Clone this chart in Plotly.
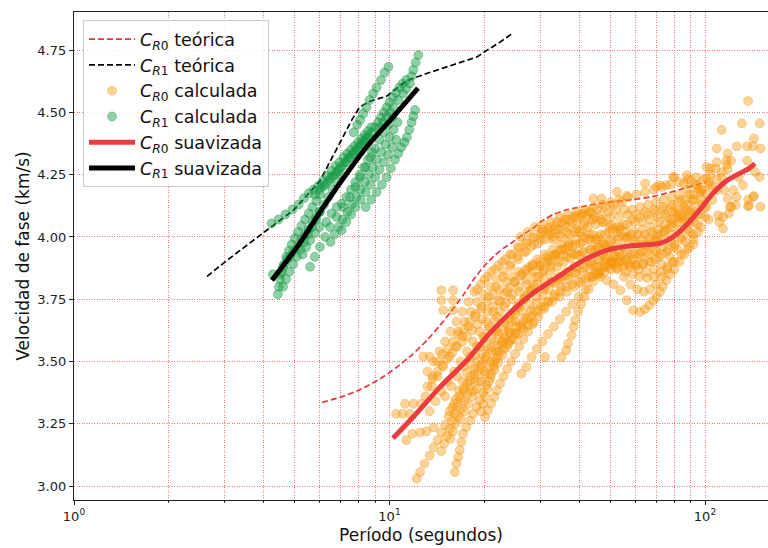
import plotly.graph_objects as go

# ---------------- theoretical dispersion curves ----------------
cr0_teo_p = [6.11, 7.0, 8.0, 9.33, 10.5, 11.87, 13.25, 14.45, 15.55, 17.1, 18.5, 20.0, 21.5, 23.0,
             24.6, 26.5, 28.5, 30.5, 33.0, 36.0, 39.3, 46.5, 52.0, 59.1, 67.0, 75.8, 86.0, 96.4, 101.5]
cr0_teo_v = [3.336, 3.357, 3.385, 3.43, 3.475, 3.53, 3.59, 3.645, 3.695, 3.765, 3.83, 3.885, 3.925, 3.955,
             3.979, 4.01, 4.035, 4.065, 4.09, 4.107, 4.118, 4.134, 4.142, 4.15, 4.16, 4.176, 4.195, 4.214, 4.22]

cr1_teo_p = [2.64, 3.12, 3.89, 4.96, 6.02, 6.97, 7.6, 8.05, 8.67, 9.8, 11.35, 13.1, 14.14,
             16.4, 18.9, 20.4, 22.4, 24.6]
cr1_teo_v = [3.842, 3.915, 4.007, 4.107, 4.225, 4.38, 4.47, 4.522, 4.545, 4.565, 4.628, 4.656, 4.67,
             4.698, 4.722, 4.75, 4.782, 4.818]

# ---------------- smoothed curves ----------------
cr0_suav_p = [10.26, 11.87, 14.45, 17.6, 20.8, 24.6, 28.5, 34.0, 41.1, 48.9, 56.0, 62.2, 72.0,
              79.3, 87.6, 96.4, 106, 117, 128.7, 138, 144]
cr0_suav_v = [3.192, 3.276, 3.397, 3.505, 3.614, 3.706, 3.774, 3.838, 3.906, 3.947, 3.962, 3.967, 3.974,
              4.0, 4.05, 4.11, 4.175, 4.225, 4.255, 4.275, 4.294]

cr1_suav_p = [4.24, 5.09, 6.16, 7.33, 8.67, 10.26, 12.31]
cr1_suav_v = [3.826, 3.959, 4.119, 4.256, 4.377, 4.481, 4.597]

# ---------------- C_R0 measured points (period s, velocity km/s) ----------------
cr0_tail_a = [(12.2, 3.03), (12.5, 3.056), (12.9, 3.09), (13.4, 3.123), (13.8, 3.156), (14.2, 3.185),
              (14.6, 3.215), (15.0, 3.245), (15.4, 3.28), (15.8, 3.315), (16.2, 3.35), (16.6, 3.385),
              (17.1, 3.42), (17.6, 3.455), (18.1, 3.49), (18.7, 3.525), (19.3, 3.56), (20.0, 3.595),
              (20.7, 3.63), (21.5, 3.665), (22.4, 3.70), (23.4, 3.735), (24.5, 3.77), (25.7, 3.80),
              (27.0, 3.83), (28.4, 3.86), (30.0, 3.885), (31.8, 3.91), (33.7, 3.93), (35.8, 3.95)]
cr0_tail_b = [(16.1, 3.056), (16.3, 3.09), (16.5, 3.117), (16.7, 3.144), (16.9, 3.177), (17.1, 3.21),
              (17.5, 3.237), (18.0, 3.263), (18.4, 3.29), (18.9, 3.317), (19.3, 3.344), (19.8, 3.375),
              (20.3, 3.405), (20.9, 3.435), (21.5, 3.465), (22.1, 3.495), (22.8, 3.525), (23.5, 3.555),
              (24.3, 3.585), (25.1, 3.615), (26.0, 3.645), (27.0, 3.675), (28.1, 3.705), (29.3, 3.735),
              (30.6, 3.765), (32.0, 3.79), (33.5, 3.815), (35.2, 3.84), (37.0, 3.86), (39.0, 3.88)]
cr0_tail_c = [(20.1, 3.277), (20.5, 3.304), (21.0, 3.331), (21.5, 3.358), (21.9, 3.384), (22.4, 3.411),
              (23.0, 3.44), (23.6, 3.47), (24.3, 3.50), (25.0, 3.53), (25.8, 3.56), (26.6, 3.59),
              (27.5, 3.62), (28.5, 3.65), (29.6, 3.68), (30.8, 3.71), (32.0, 3.74), (33.5, 3.77),
              (35.0, 3.80), (37.0, 3.83), (39.0, 3.855), (41.2, 3.875), (43.6, 3.89), (46.1, 3.905),
              (48.8, 3.915), (51.7, 3.925)]
cr0_tail_d = [(19.5, 3.30), (19.8, 3.33), (20.1, 3.36), (20.4, 3.39), (20.7, 3.42), (21.0, 3.45),
              (21.4, 3.48), (21.8, 3.51), (22.2, 3.54), (22.7, 3.57), (23.2, 3.60), (23.8, 3.63),
              (24.4, 3.66), (25.1, 3.69), (25.9, 3.72), (26.7, 3.75), (27.6, 3.78), (28.6, 3.81),
              (29.7, 3.84), (30.9, 3.87), (32.2, 3.90), (33.6, 3.93), (35.2, 3.95), (37.0, 3.97)]
cr0_tail_e = [(15.6, 3.19), (15.9, 3.22), (16.2, 3.25), (16.5, 3.28), (16.9, 3.31), (17.3, 3.34),
              (17.7, 3.37), (18.1, 3.40), (18.6, 3.43), (19.1, 3.46), (19.6, 3.49), (20.2, 3.52),
              (20.8, 3.55), (21.5, 3.58), (22.2, 3.61), (23.0, 3.64), (23.9, 3.67), (24.8, 3.70),
              (25.8, 3.73), (26.9, 3.76), (28.1, 3.79)]
cr0_tail_f = [(14.6, 3.14), (14.9, 3.17), (15.2, 3.20), (15.5, 3.23), (15.8, 3.26), (16.1, 3.29),
              (16.4, 3.32), (16.8, 3.35), (17.2, 3.38), (17.6, 3.41), (18.1, 3.44), (18.6, 3.47),
              (19.1, 3.50), (19.7, 3.53), (20.3, 3.56), (21.0, 3.59), (21.7, 3.62)]
cr0_left = [(10.5, 3.29), (11.0, 3.29), (11.6, 3.29), (11.2, 3.33), (11.9, 3.33), (12.6, 3.33),
            (11.3, 3.184), (11.8, 3.21), (12.5, 3.215), (13.1, 3.22), (13.8, 3.235),
            (12.8, 3.52), (13.4, 3.52), (13.2, 3.46), (13.7, 3.44),
            (14.6, 3.786), (15.9, 3.786), (14.6, 3.746), (15.9, 3.746), (14.8, 3.706), (15.9, 3.706)]
cr0_band_1 = [(13.0, 3.36), (13.6, 3.40), (14.2, 3.44), (14.8, 3.48), (15.5, 3.52), (16.2, 3.56),
              (17.0, 3.60), (17.8, 3.64), (18.7, 3.68), (19.6, 3.72), (20.6, 3.76), (21.7, 3.80),
              (22.9, 3.84), (24.2, 3.88), (25.6, 3.91), (27.1, 3.94), (28.7, 3.97), (30.4, 3.99),
              (32.3, 4.01), (34.3, 4.03), (36.5, 4.04), (38.9, 4.05), (41.4, 4.06), (44.1, 4.07),
              (47.0, 4.07), (50.1, 4.08), (53.4, 4.08), (56.9, 4.09), (60.7, 4.09), (64.7, 4.10),
              (69.0, 4.11), (73.6, 4.12), (78.5, 4.13), (83.7, 4.15), (89.3, 4.17), (95.2, 4.19)]
cr0_band_2 = [(13.8, 3.50), (14.4, 3.54), (15.0, 3.58), (15.6, 3.62), (16.3, 3.66), (17.0, 3.70),
              (17.8, 3.74), (18.6, 3.78), (19.5, 3.81), (20.5, 3.84), (21.6, 3.87), (22.8, 3.90),
              (24.1, 3.93), (25.5, 3.96), (27.0, 3.98), (28.6, 4.00), (30.3, 4.02), (32.1, 4.04),
              (34.0, 4.06), (36.0, 4.07), (38.2, 4.08), (40.5, 4.09), (43.0, 4.10), (45.6, 4.11),
              (48.4, 4.12), (51.4, 4.13), (54.5, 4.14)]
cr0_band_3 = [(13.4, 3.30), (14.0, 3.34), (14.6, 3.38), (15.3, 3.42), (16.0, 3.46), (16.8, 3.50),
              (17.6, 3.54), (18.4, 3.58), (19.3, 3.62), (20.3, 3.66), (21.3, 3.70), (22.4, 3.74),
              (23.6, 3.78), (24.9, 3.82), (26.3, 3.85), (27.8, 3.88), (29.4, 3.91), (31.1, 3.93),
              (32.9, 3.95), (34.8, 3.97), (36.9, 3.98), (39.1, 3.99), (41.5, 4.00), (44.0, 4.01),
              (46.7, 4.01), (49.6, 4.02), (52.7, 4.02), (56.0, 4.02), (59.5, 4.02), (63.2, 4.03),
              (67.2, 4.04), (71.4, 4.06), (75.9, 4.08), (80.7, 4.10), (85.8, 4.12), (91.2, 4.15),
              (97.0, 4.18), (103, 4.21)]
cr0_band_4 = [(15.0, 3.36), (15.7, 3.40), (16.4, 3.44), (17.2, 3.48), (18.0, 3.52), (18.9, 3.56),
              (19.8, 3.60), (20.8, 3.64), (21.9, 3.68), (23.1, 3.72), (24.4, 3.75), (25.8, 3.78),
              (27.3, 3.81), (28.9, 3.84), (30.6, 3.86), (32.4, 3.88), (34.3, 3.90), (36.3, 3.92),
              (38.5, 3.93), (40.8, 3.94), (43.3, 3.95), (45.9, 3.95), (48.7, 3.96), (51.7, 3.96),
              (54.9, 3.96), (58.3, 3.96), (61.9, 3.96), (65.7, 3.97), (69.8, 3.98), (74.1, 3.99),
              (78.7, 4.01), (83.6, 4.03), (88.8, 4.06), (94.3, 4.09), (100, 4.12)]
cr0_band_5 = [(18.5, 3.38), (19.2, 3.42), (20.0, 3.46), (20.9, 3.50), (21.8, 3.54), (22.8, 3.58),
              (23.9, 3.62), (25.1, 3.66), (26.4, 3.70), (27.8, 3.73), (29.3, 3.76), (30.9, 3.79),
              (32.6, 3.82), (34.4, 3.84), (36.4, 3.86), (38.5, 3.88), (40.8, 3.89), (43.2, 3.90),
              (45.8, 3.91), (48.6, 3.92), (51.6, 3.92), (54.8, 3.93), (58.2, 3.93), (61.8, 3.93),
              (65.6, 3.94), (69.6, 3.95), (73.9, 3.96), (78.4, 3.98)]
cr0_dip_a = [(30.0, 3.88), (31.8, 3.90), (33.7, 3.92), (35.7, 3.93), (37.8, 3.935), (40.0, 3.925),
             (42.2, 3.905), (44.5, 3.88), (46.5, 3.84), (48.8, 3.826), (51.3, 3.81), (53.9, 3.786),
             (56.5, 3.746), (59.2, 3.706), (62.2, 3.699), (64.5, 3.71), (66.6, 3.726), (68.5, 3.745),
             (70.2, 3.759), (72.0, 3.78), (73.5, 3.80), (75.4, 3.826), (77.5, 3.85), (80.0, 3.87),
             (83.0, 3.90), (86.0, 3.93), (89.0, 3.96), (92.0, 3.99), (95.0, 4.02)]
cr0_dip_b = [(45.0, 3.95), (47.5, 3.93), (50.0, 3.90), (52.6, 3.87), (55.3, 3.84), (58.0, 3.81),
             (61.0, 3.79), (64.0, 3.78), (67.0, 3.79), (70.0, 3.81), (73.0, 3.84), (76.0, 3.87),
             (79.0, 3.90)]
cr0_band_7 = [(30.5, 4.05), (32.5, 4.06), (34.6, 4.08), (36.8, 4.09), (39.2, 4.10), (41.7, 4.11),
              (44.4, 4.12), (47.3, 4.13), (50.3, 4.14), (53.5, 4.15), (57.0, 4.16), (60.6, 4.17),
              (64.5, 4.18), (68.7, 4.19), (73.1, 4.20), (77.8, 4.21), (82.8, 4.22), (88.1, 4.23),
              (93.8, 4.24)]
cr0_band_9 = [(40.0, 4.02), (42.5, 4.04), (45.0, 4.05), (47.7, 4.06), (50.5, 4.05), (53.5, 4.03),
              (56.7, 4.00), (60.0, 3.98), (63.5, 3.97), (67.2, 3.98), (71.1, 4.00), (75.3, 4.03),
              (79.7, 4.06), (84.4, 4.08), (89.3, 4.10)]
cr0_band_10 = [(44.0, 3.84), (46.5, 3.86), (49.2, 3.88), (52.0, 3.89), (55.0, 3.90), (58.2, 3.89),
               (61.6, 3.87), (65.2, 3.86), (69.0, 3.87), (73.0, 3.89), (77.3, 3.92), (81.8, 3.95),
               (86.6, 3.98), (91.6, 4.01), (97.0, 4.04), (102.6, 4.07)]
cr0_band_11 = [(33.0, 3.99), (35.0, 4.00), (37.1, 4.01), (39.3, 4.03), (41.6, 4.05), (44.1, 4.07),
               (46.7, 4.09), (49.5, 4.10), (52.4, 4.11), (55.5, 4.11), (58.8, 4.11), (62.3, 4.12),
               (66.0, 4.13), (69.9, 4.14), (74.0, 4.15), (78.4, 4.16), (83.0, 4.17), (87.9, 4.19),
               (93.1, 4.21), (98.6, 4.23), (104, 4.25)]
cr0_band_12 = [(16.5, 3.62), (17.3, 3.66), (18.1, 3.70), (19.0, 3.74), (19.9, 3.77), (20.9, 3.80),
               (21.9, 3.83), (23.0, 3.86), (24.2, 3.89), (25.4, 3.92), (26.7, 3.94), (28.1, 3.96),
               (29.6, 3.975), (31.2, 3.99), (32.9, 4.00), (34.7, 4.01), (36.6, 4.02), (38.6, 4.02),
               (40.7, 4.02), (43.0, 4.01), (45.4, 3.99), (47.9, 3.97), (50.6, 3.95), (53.4, 3.94),
               (56.4, 3.93), (59.5, 3.93), (62.8, 3.94), (66.3, 3.96), (70.0, 3.99), (73.9, 4.02),
               (78.0, 4.05), (82.4, 4.08), (87.0, 4.11)]
cr0_band_13 = [(22.0, 3.62), (23.1, 3.655), (24.2, 3.69), (25.4, 3.72), (26.7, 3.75), (28.0, 3.78),
               (29.4, 3.81), (30.9, 3.835), (32.4, 3.86), (34.0, 3.88), (35.7, 3.90), (37.5, 3.915),
               (39.4, 3.93), (41.4, 3.94), (43.5, 3.95), (45.7, 3.96), (48.0, 3.97), (50.4, 3.98),
               (52.9, 3.99), (55.6, 4.00), (58.4, 4.01), (61.3, 4.01), (64.4, 4.01), (67.6, 4.02),
               (71.0, 4.03), (74.6, 4.05), (78.4, 4.07), (82.3, 4.09)]
cr0_band_14 = [(24.0, 3.58), (25.1, 3.61), (26.3, 3.64), (27.5, 3.67), (28.8, 3.70), (30.2, 3.72),
               (31.6, 3.74), (33.1, 3.76), (34.7, 3.78), (36.3, 3.80), (38.0, 3.81), (39.8, 3.82),
               (41.7, 3.83), (43.7, 3.84), (45.8, 3.85), (48.0, 3.86), (50.3, 3.87), (52.7, 3.875),
               (55.2, 3.88), (57.8, 3.88), (60.6, 3.885), (63.5, 3.89), (66.5, 3.90), (69.7, 3.91),
               (73.0, 3.93), (76.5, 3.95), (80.2, 3.97), (84.0, 4.00), (88.0, 4.03), (92.2, 4.06),
               (96.6, 4.09), (101, 4.12)]
cr0_band_15 = [(14.2, 3.50), (14.7, 3.53), (15.3, 3.55), (15.9, 3.58), (16.5, 3.61), (17.2, 3.63),
               (17.9, 3.66), (18.7, 3.69), (19.5, 3.71), (20.4, 3.74), (21.3, 3.77), (22.3, 3.79),
               (23.4, 3.82), (24.5, 3.84), (25.7, 3.86), (27.0, 3.87), (28.4, 3.89), (29.9, 3.90),
               (31.5, 3.92), (33.2, 3.93), (35.0, 3.95), (36.9, 3.96), (38.9, 3.97), (41.0, 3.98),
               (43.3, 3.99), (45.7, 4.00), (48.2, 4.01), (50.9, 4.03), (53.7, 4.04), (56.7, 4.05),
               (59.9, 4.06), (63.3, 4.06), (66.9, 4.07), (70.7, 4.08), (74.7, 4.09), (78.9, 4.10),
               (83.4, 4.11), (88.1, 4.13), (93.1, 4.15)]
cr0_band_16 = [(15.5, 3.30), (16.0, 3.33), (16.6, 3.36), (17.2, 3.39), (17.9, 3.42), (18.6, 3.45),
               (19.4, 3.48), (20.2, 3.51), (21.1, 3.54), (22.0, 3.565), (23.0, 3.59), (24.1, 3.615),
               (25.3, 3.64), (26.6, 3.66), (28.0, 3.68), (29.5, 3.70), (31.1, 3.72), (32.8, 3.74),
               (34.6, 3.76), (36.5, 3.78), (38.5, 3.80), (40.6, 3.82), (42.8, 3.84), (45.2, 3.86),
               (47.7, 3.88), (50.4, 3.89), (53.2, 3.90), (56.2, 3.91), (59.4, 3.91), (62.8, 3.92),
               (66.4, 3.93), (70.2, 3.94)]
cr0_band_17 = [(26.0, 4.00), (27.4, 4.02), (28.9, 4.04), (30.5, 4.03), (32.2, 4.02), (34.0, 4.03),
               (35.9, 4.05), (37.9, 4.06), (40.0, 4.08), (42.3, 4.09), (44.7, 4.08), (47.2, 4.06),
               (49.9, 4.04), (52.7, 4.04), (55.7, 4.05), (58.9, 4.07), (62.2, 4.08), (65.8, 4.09),
               (69.6, 4.10), (73.6, 4.11), (77.8, 4.12), (82.3, 4.14), (87.0, 4.15), (92.0, 4.17),
               (97.3, 4.19), (103, 4.22)]
cr0_band_18 = [(31.0, 3.80), (32.8, 3.82), (34.7, 3.83), (36.6, 3.845), (38.7, 3.855), (40.9, 3.86),
               (43.2, 3.87), (45.6, 3.88), (48.2, 3.895), (51.0, 3.90), (53.9, 3.90), (57.0, 3.895),
               (60.3, 3.89), (63.8, 3.895), (67.5, 3.90), (71.4, 3.92), (75.5, 3.94), (79.8, 3.96),
               (84.4, 3.99), (89.3, 4.02), (94.5, 4.05), (100, 4.08)]
cr0_band_19 = [(13.2, 3.40), (13.7, 3.43), (14.2, 3.46), (14.7, 3.485), (15.2, 3.51), (15.8, 3.535),
               (16.4, 3.56), (17.0, 3.58), (17.6, 3.60), (18.3, 3.625), (19.0, 3.65), (19.7, 3.67),
               (20.5, 3.70), (21.3, 3.72), (22.1, 3.745), (23.0, 3.77), (24.0, 3.795), (25.0, 3.82),
               (26.1, 3.845), (27.3, 3.865), (28.5, 3.885)]
cr0_band_20 = [(16.8, 3.27), (17.3, 3.30), (17.8, 3.33), (18.3, 3.36), (18.9, 3.39), (19.5, 3.42),
               (20.1, 3.45), (20.8, 3.475), (21.5, 3.50), (22.2, 3.525), (23.0, 3.55), (23.8, 3.57),
               (24.7, 3.59), (25.6, 3.61), (26.6, 3.63), (27.6, 3.645), (28.7, 3.66)]
cr0_band_21 = [(38.0, 3.96), (40.2, 3.975), (42.5, 3.99), (45.0, 3.985), (47.6, 3.975), (50.3, 3.99),
               (53.2, 4.00), (56.3, 3.995), (59.5, 3.985), (62.9, 3.99), (66.5, 4.00), (70.3, 4.01),
               (74.3, 4.025), (78.6, 4.04), (83.1, 4.06), (87.8, 4.08), (92.9, 4.10), (98.2, 4.13)]
cr0_band_22 = [(19.0, 3.79), (20.0, 3.83), (21.0, 3.86), (22.1, 3.885), (23.3, 3.91), (24.5, 3.93),
               (25.8, 3.955), (27.2, 3.975), (28.6, 3.995), (30.2, 4.01), (31.8, 4.03), (33.5, 4.045),
               (35.3, 4.06), (37.2, 4.07), (39.2, 4.085), (41.3, 4.095), (43.5, 4.10)]
cr0_band_23 = [(56.0, 3.86), (59.0, 3.85), (62.0, 3.84), (65.5, 3.835), (69.0, 3.84), (72.5, 3.86),
               (76.0, 3.88), (80.0, 3.90), (84.0, 3.93), (88.0, 3.95), (92.0, 3.97)]
cr0_band_24 = [(85.0, 4.07), (89.0, 4.09), (93.0, 4.12), (97.0, 4.15), (101, 4.17), (105, 4.20),
               (109, 4.23), (113, 4.26), (117, 4.29)]
cr0_rise_a = [(35.1, 3.518), (36.3, 3.545), (36.8, 3.572), (37.8, 3.605), (38.3, 3.639), (38.8, 3.666),
              (39.6, 3.70), (40.5, 3.73), (41.5, 3.76), (42.8, 3.79), (44.2, 3.82), (46.0, 3.85),
              (48.0, 3.88), (50.5, 3.90), (53.0, 3.92)]
cr0_rise_b = [(26.2, 3.451), (27.2, 3.478), (28.2, 3.518), (29.3, 3.55), (30.5, 3.58), (31.8, 3.61),
              (33.2, 3.64), (34.7, 3.67), (36.3, 3.70), (38.0, 3.73), (39.8, 3.76), (41.8, 3.79),
              (31.1, 3.518)]
cr0_upper = [(44.3, 4.154), (47.0, 4.154), (52.6, 4.181), (56.5, 4.165), (64.6, 4.215), (70.2, 4.201),
             (72.0, 4.208), (75.4, 4.208), (79.2, 4.241), (80.0, 4.24), (85.7, 4.215), (87.6, 4.248),
             (90.0, 4.228), (94.4, 4.208), (98.0, 4.188)]
cr0_right = [(137, 4.546), (131, 4.456), (149, 4.456), (113, 4.43), (143, 4.395), (109, 4.355),
             (118, 4.335), (126, 4.364), (136, 4.364), (142, 4.364), (150, 4.355), (121, 4.306),
             (109, 4.30), (136, 4.306), (104, 4.275), (108, 4.275), (118, 4.272), (113, 4.239),
             (101, 4.235), (128, 4.239), (144, 4.261), (132, 4.208), (126, 4.161), (137, 4.15),
             (143, 4.164), (137, 4.123), (150, 4.121), (121, 4.12), (119, 4.094), (110, 4.087),
             (111, 4.06), (114, 4.034), (123, 4.188), (115, 4.188), (109, 4.188), (118, 4.154),
             (125, 4.128), (101, 4.281), (117, 4.308), (149, 4.241), (142, 4.161), (138, 4.128),
             (120, 4.121), (114, 4.08), (105.5, 4.148)]

# ---------------- C_R1 measured points ----------------
cr1_track_a = [(4.23, 4.054), (4.45, 4.07), (4.68, 4.09), (4.92, 4.11), (5.15, 4.13), (5.35, 4.155),
               (5.55, 4.175), (5.75, 4.19), (5.95, 4.205), (6.15, 4.225), (6.35, 4.245), (6.55, 4.265),
               (6.75, 4.285), (6.95, 4.30), (7.15, 4.32), (7.35, 4.335), (7.55, 4.35), (7.75, 4.365),
               (7.95, 4.38), (8.15, 4.395), (8.35, 4.41), (8.55, 4.425), (8.75, 4.44)]
cr1_track_b = [(5.8, 4.17), (6.0, 4.19), (6.2, 4.205), (6.4, 4.225), (6.6, 4.245), (6.8, 4.26),
               (7.0, 4.28), (7.2, 4.30), (7.4, 4.315), (7.6, 4.33), (7.8, 4.345), (8.0, 4.36),
               (8.2, 4.375), (8.4, 4.39), (8.6, 4.405), (8.8, 4.42), (9.0, 4.44), (9.2, 4.46),
               (9.4, 4.48), (9.6, 4.50), (9.8, 4.52), (10.0, 4.54), (10.25, 4.56), (10.5, 4.58),
               (10.75, 4.60), (11.0, 4.615), (11.3, 4.63)]
cr1_track_c = [(7.7, 4.42), (7.9, 4.45), (8.07, 4.47), (8.25, 4.495), (8.45, 4.52), (8.65, 4.55),
               (8.88, 4.576), (9.1, 4.60), (9.4, 4.63), (9.65, 4.66), (9.92, 4.683)]
cr1_track_d = [(9.33, 4.44), (9.55, 4.46), (9.8, 4.48), (10.05, 4.50), (10.3, 4.52), (10.66, 4.55),
               (11.03, 4.576), (11.3, 4.595), (11.6, 4.616), (11.75, 4.645), (11.9, 4.67), (12.1, 4.70),
               (12.34, 4.73)]
cr1_track_e = [(4.43, 3.77), (4.46, 3.80), (4.50, 3.83), (4.56, 3.86), (4.63, 3.89), (4.71, 3.92),
               (4.80, 3.945), (4.90, 3.97), (5.01, 3.995), (5.13, 4.02), (5.26, 4.045), (5.40, 4.07),
               (5.55, 4.095), (5.70, 4.12), (5.86, 4.145), (6.02, 4.17)]
cr1_track_f = [(5.6, 3.88), (5.8, 3.92), (6.02, 3.96), (6.25, 4.0), (6.47, 4.04), (6.8, 4.08),
               (7.15, 4.12), (7.5, 4.16), (7.8, 4.20), (8.05, 4.24), (8.4, 4.28), (8.7, 4.32),
               (9.0, 4.355), (9.3, 4.39), (9.6, 4.42), (9.9, 4.45), (10.2, 4.48)]
cr1_track_g = [(7.05, 4.027), (7.3, 4.06), (7.55, 4.09), (7.8, 4.12), (8.1, 4.15), (8.4, 4.18),
               (8.7, 4.21), (9.0, 4.24), (9.3, 4.27), (9.6, 4.30), (9.9, 4.33), (10.2, 4.36),
               (10.5, 4.39)]
cr1_track_h = [(8.4, 4.12), (8.75, 4.15), (9.1, 4.18), (9.45, 4.21), (9.8, 4.24), (10.1, 4.275),
               (10.4, 4.31), (10.65, 4.335), (10.9, 4.36), (11.15, 4.38), (11.35, 4.40), (11.55, 4.43),
               (11.75, 4.46), (11.9, 4.485), (12.05, 4.51)]
cr1_track_i = [(4.27, 3.85), (4.5, 3.85), (4.6, 3.88), (4.73, 3.91), (4.84, 3.92), (4.95, 3.94),
               (5.1, 3.96), (5.25, 3.99), (5.4, 4.01), (5.55, 4.03), (5.7, 4.06), (5.85, 4.08),
               (6.0, 4.10)]
cr1_track_j = [(5.3, 3.93), (5.45, 3.96), (5.6, 3.986), (5.8, 4.015), (6.0, 4.04), (6.3, 4.06),
               (6.55, 4.094), (6.8, 4.12), (7.05, 4.134), (7.3, 4.16), (7.55, 4.19), (7.8, 4.22),
               (8.05, 4.25), (8.3, 4.28), (8.55, 4.31), (8.8, 4.34)]
cr1_track_k = [(4.6, 3.80), (4.7, 3.83), (4.82, 3.86), (4.95, 3.89), (5.08, 3.92), (5.22, 3.95),
               (5.37, 3.98), (5.52, 4.01), (5.68, 4.04), (5.85, 4.07), (6.02, 4.10), (6.2, 4.13),
               (6.4, 4.16), (6.6, 4.19), (6.8, 4.22), (7.0, 4.25)]
cr1_track_l = [(6.5, 3.98), (6.7, 4.01), (6.9, 4.04), (7.1, 4.07), (7.35, 4.10), (7.6, 4.13),
               (7.85, 4.16), (8.1, 4.19), (8.35, 4.22), (8.6, 4.25), (8.85, 4.28), (9.1, 4.31),
               (9.4, 4.34), (9.7, 4.37), (10.0, 4.40), (10.3, 4.43), (10.6, 4.46)]
cr1_track_m = [(6.1, 4.20), (6.3, 4.215), (6.5, 4.235), (6.7, 4.25), (6.9, 4.27), (7.1, 4.285),
               (7.3, 4.30), (7.5, 4.32), (7.7, 4.335), (7.9, 4.35), (8.1, 4.37), (8.3, 4.385),
               (8.5, 4.40)]

cr0_tracks = [cr0_tail_a, cr0_tail_b, cr0_tail_c, cr0_tail_d, cr0_tail_e, cr0_tail_f, cr0_left,
              cr0_band_1, cr0_band_2, cr0_band_3, cr0_band_4, cr0_band_5, cr0_dip_a, cr0_dip_b,
              cr0_band_7, cr0_band_9, cr0_band_10, cr0_band_11, cr0_band_12, cr0_band_13,
              cr0_band_14, cr0_band_15, cr0_band_16, cr0_band_17, cr0_band_18, cr0_band_19,
              cr0_band_20, cr0_band_21, cr0_band_22, cr0_band_23, cr0_band_24,
              cr0_rise_a, cr0_rise_b, cr0_upper, cr0_right]
cr1_tracks = [cr1_track_a, cr1_track_b, cr1_track_c, cr1_track_d, cr1_track_e, cr1_track_f,
              cr1_track_g, cr1_track_h, cr1_track_i, cr1_track_j, cr1_track_k, cr1_track_l,
              cr1_track_m]


def flatten(tracks):
    ps, vs = [], []
    for tr in tracks:
        for p, v in tr:
            ps.append(p)
            vs.append(v)
    return ps, vs


cr0_calc_p, cr0_calc_v = flatten(cr0_tracks)
cr1_calc_p, cr1_calc_v = flatten(cr1_tracks)

RED = "#e8383d"
ORANGE = "rgba(245,150,10,0.42)"
GREEN = "rgba(20,155,70,0.48)"
GRID = "rgba(240,50,50,0.65)"
FONT = "DejaVu Sans"


def lbl(sub, word):
    return f"<i>C</i><sub><i>R</i>{sub}</sub> {word}"


fig = go.Figure()
fig.add_trace(go.Scatter(x=cr0_teo_p, y=cr0_teo_v, mode="lines", name=lbl("0", "teórica"),
                         line=dict(color=RED, width=1.7, dash="6px,3px", shape="spline", smoothing=0.5)))
fig.add_trace(go.Scatter(x=cr1_teo_p, y=cr1_teo_v, mode="lines", name=lbl("1", "teórica"),
                         line=dict(color="black", width=1.7, dash="6px,3px")))
fig.add_trace(go.Scatter(x=cr0_calc_p, y=cr0_calc_v, mode="markers", name=lbl("0", "calculada"),
                         marker=dict(size=9, color=ORANGE, line=dict(width=0.8, color=ORANGE))))
fig.add_trace(go.Scatter(x=cr1_calc_p, y=cr1_calc_v, mode="markers", name=lbl("1", "calculada"),
                         marker=dict(size=9, color=GREEN, line=dict(width=0.8, color=GREEN))))
fig.add_trace(go.Scatter(x=cr0_suav_p, y=cr0_suav_v, mode="lines", name=lbl("0", "suavizada"),
                         line=dict(color="#ea3e3e", width=5, shape="spline", smoothing=0.6)))
fig.add_trace(go.Scatter(x=cr1_suav_p, y=cr1_suav_v, mode="lines", name=lbl("1", "suavizada"),
                         line=dict(color="black", width=5, shape="spline", smoothing=0.6)))

minor_vals = [2, 3, 4, 5, 6, 7, 8, 9, 20, 30, 40, 50, 60, 70, 80, 90]

fig.update_xaxes(type="log", range=[0, 2.1997],
                 tickvals=[1, 10, 100], ticktext=["10<sup>0</sup>", "10<sup>1</sup>", "10<sup>2</sup>"],
                 showline=True, linecolor="#222222", linewidth=1.3, mirror=True,
                 ticks="outside", ticklen=4, tickcolor="#222222",
                 showgrid=True, gridcolor=GRID, griddash="1px,1.5px", gridwidth=1,
                 minor=dict(tickvals=minor_vals, showgrid=True, gridcolor=GRID, griddash="1px,1.5px",
                            gridwidth=1, ticks="outside", ticklen=2, tickcolor="#222222"),
                 zeroline=False, tickfont=dict(size=13, color="#222222"),
                 title=dict(text="Período (segundos)", font=dict(size=17, color="#111111"), standoff=6))
fig.update_yaxes(range=[2.944, 4.903],
                 tickvals=[3.0, 3.25, 3.5, 3.75, 4.0, 4.25, 4.5, 4.75], tickformat=".2f",
                 showline=True, linecolor="#222222", linewidth=1.3,
                 ticks="outside", ticklen=4, tickcolor="#222222",
                 showgrid=True, gridcolor=GRID, griddash="1px,1.5px", gridwidth=1,
                 zeroline=False, tickfont=dict(size=13, color="#222222"),
                 title=dict(text="Velocidad de fase (km/s)", font=dict(size=17, color="#111111"), standoff=3))

fig.update_layout(width=768, height=548, margin=dict(l=74, r=0, t=12, b=48),
                  paper_bgcolor="white", plot_bgcolor="white",
                  font=dict(family=FONT, color="#111111"),
                  legend=dict(x=0.013, y=0.983, xanchor="left", yanchor="top",
                              bgcolor="rgba(255,255,255,0.85)", bordercolor="#cccccc", borderwidth=1,
                              font=dict(size=17.5, color="#111111"), tracegroupgap=0, itemwidth=46))

fig.write_html("out.html")
